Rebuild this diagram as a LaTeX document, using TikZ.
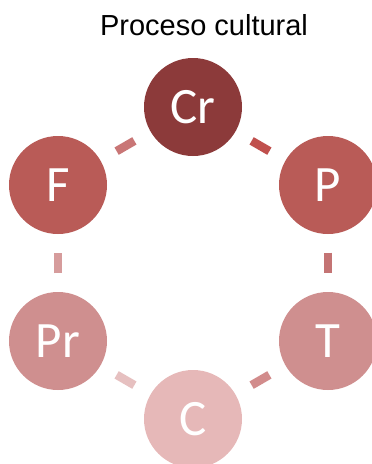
\documentclass[tikz,border=0pt]{standalone}
\usepackage{fontspec}
\usepackage{tikz}
\usepackage{xcolor}
\setmainfont{Liberation Sans}
\newfontfamily\circfont{Carlito}
\definecolor{CrRed}{HTML}{8C3A3A}
\definecolor{MidRed}{HTML}{B95B57}
\definecolor{LightRed}{HTML}{CF8F8F}
\definecolor{PaleRed}{HTML}{E6B8B8}
\definecolor{LinkCrP}{HTML}{C0504D}
\definecolor{LinkCrF}{HTML}{C97676}
\definecolor{LinkFPr}{HTML}{D69C9C}
\definecolor{LinkPT}{HTML}{C47474}
\definecolor{LinkPrC}{HTML}{E6C0C0}
\definecolor{LinkTC}{HTML}{D28C8C}
\newcommand\nodecr{Cr}
\newcommand\nodep{P}
\newcommand\nodet{T}
\newcommand\nodec{C}
\newcommand\nodepr{Pr}
\newcommand\nodef{F}
\tikzstyle{mycirclestyle} = [circle, minimum size=98pt, inner sep=0pt, text=white, font=\circfont\fontsize{51}{51}\selectfont]
\tikzstyle{lk} = [line width=8.5pt, shorten >=18.5pt, shorten <=18.5pt]
\tikzset{every picture/.style={x=1pt, y=1pt}}

\begin{document}
\begin{tikzpicture}
\useasboundingbox (0, 0) rectangle (372, -464);
\node[anchor=base, font=\fontsize{29}{29}\selectfont] (title) at (204, -35) {Proceso cultural};
\node[mycirclestyle, fill=CrRed] (cr) at (193, -107) {\nodecr};
\node[mycirclestyle, fill=MidRed] (p) at (328, -185) {\nodep};
\node[mycirclestyle, fill=LightRed] (t) at (328, -341) {\nodet};
\node[mycirclestyle, fill=PaleRed] (c) at (193, -419) {\nodec};
\node[mycirclestyle, fill=LightRed] (pr) at (58, -341) {\nodepr};
\node[mycirclestyle, fill=MidRed] (f) at (58, -185) {\nodef};
\draw [lk, LinkCrP] (cr) -- (p);
\draw [lk, LinkPT] (p) -- (t);
\draw [lk, LinkTC] (t) -- (c);
\draw [lk, LinkPrC] (c) -- (pr);
\draw [lk, LinkFPr] (pr) -- (f);
\draw [lk, LinkCrF] (f) -- (cr);
\end{tikzpicture}
\end{document}
